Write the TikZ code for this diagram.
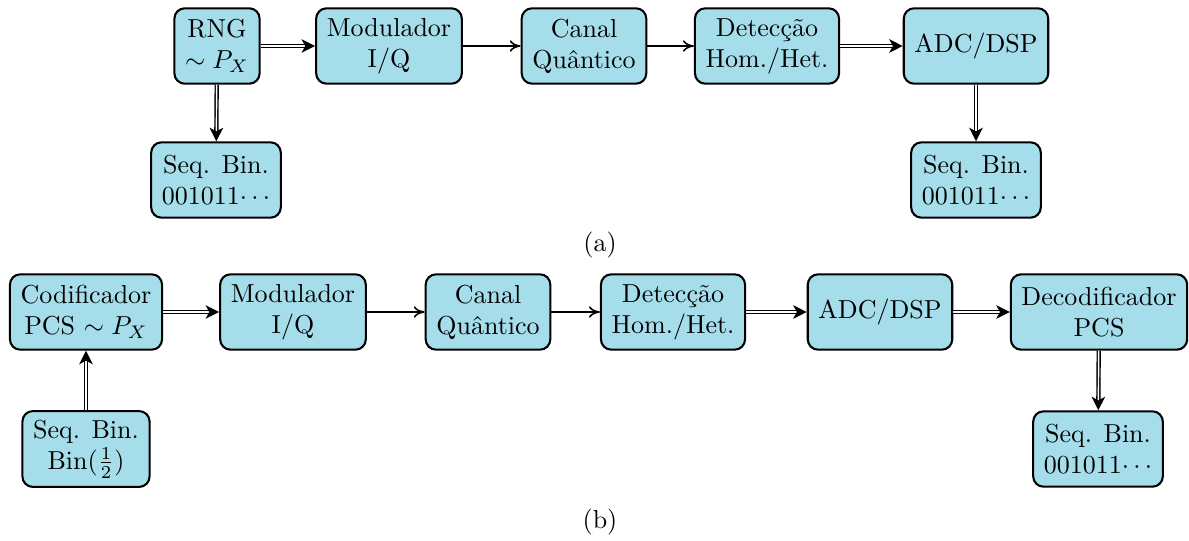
\documentclass[tikz,border=0pt]{standalone}
\usetikzlibrary{arrows.meta}
\definecolor{boxfill}{RGB}{166,221,234}
\begin{document}
\begin{tikzpicture}[x=0.3846pt,y=-0.3846pt,
  blk/.style={draw, thick, rounded corners=4pt, fill=boxfill, align=center, minimum height=29pt, inner xsep=4.1pt, inner ysep=3.33pt},
  sarr/.style={-{To[length=4.2pt,width=4.4pt]}, line width=0.6pt},
  darr/.style={-{Stealth[length=5.2pt,width=5.2pt,inset=1.4pt]}, line width=0.55pt, double, double distance=0.55pt}]
\useasboundingbox (0,0) rectangle (1189,541);
% (a)
\node[blk] (rng) at (217,46) {RNG\\$\sim P_X$};
\node[blk] (mod) at (389,46) {Modulador\\I/Q};
\node[blk] (can) at (584,46) {Canal\\Quântico};
\node[blk] (det) at (767,46) {Detecção\\Hom./Het.};
\node[blk] (adc) at (976,46) {ADC/DSP};
\node[blk] (seqa) at (216,180) {Seq. Bin.\\001011$\cdots$};
\node[blk] (seqb) at (976,180) {Seq. Bin.\\001011$\cdots$};
\node (la) at (600,245) {(a)};
\draw[darr] (rng) -- (mod);
\draw[sarr] (mod) -- (can);
\draw[sarr] (can) -- (det);
\draw[darr] (det) -- (adc);
\draw[darr] (rng) -- (seqa);
\draw[darr] (adc) -- (seqb);
% (b)
\node[blk] (cod) at (86,312) {Codificador\\PCS $\sim P_X$};
\node[blk] (mod2) at (293,312) {Modulador\\I/Q};
\node[blk] (can2) at (488,312) {Canal\\Quântico};
\node[blk] (det2) at (673,312) {Detecção\\Hom./Het.};
\node[blk] (adc2) at (880,312) {ADC/DSP};
\node[blk] (dec) at (1099,312) {Decodificador\\PCS};
\node[blk] (seqc) at (86,449) {Seq. Bin.\\$\mathrm{Bin}(\frac{1}{2})$};
\node[blk] (seqd) at (1098,449) {Seq. Bin.\\001011$\cdots$};
\node (lb) at (600,522) {(b)};
\draw[darr] (cod) -- (mod2);
\draw[sarr] (mod2) -- (can2);
\draw[sarr] (can2) -- (det2);
\draw[darr] (det2) -- (adc2);
\draw[darr] (adc2) -- (dec);
\draw[darr] (dec) -- (seqd);
\draw[darr] (seqc) -- (cod);
\end{tikzpicture}
\end{document}
